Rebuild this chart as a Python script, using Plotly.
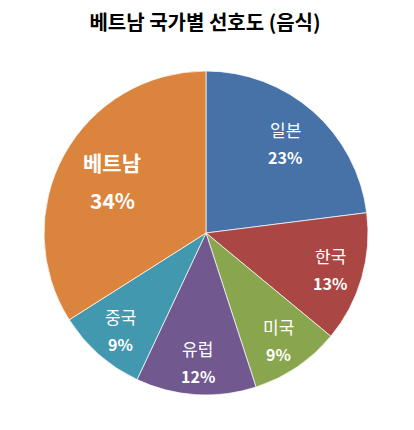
import math
import plotly.graph_objects as go

# slices in clockwise order starting at 12 o'clock
countries = ['일본', '한국', '미국', '유럽', '중국', '베트남']
shares = [23, 13, 9, 12, 9, 34]
colors = ['#4672A8', '#AA4643', '#89A54E', '#71588F', '#4198AF', '#DB843D']

W, H = 414, 430
OFF = 8  # page body margin shifts the plot by 8px
cx, cy, r = 206 - OFF, 233 - OFF, 162
font = 'Noto Sans CJK KR'

fig = go.Figure(go.Pie(
    labels=countries,
    values=shares,
    sort=False,
    direction='clockwise',
    rotation=0,
    marker=dict(colors=colors, line=dict(color='rgba(255,255,255,0.7)', width=1)),
    textinfo='none',
    hoverinfo='label+percent',
    showlegend=False,
    domain=dict(x=[(cx - r) / W, (cx + r) / W], y=[1 - (cy + r) / H, 1 - (cy - r) / H]),
))

# data labels at the middle angle of each slice
total = sum(shares)
acc = 0
for name, v in zip(countries, shares):
    mid = (acc + v / 2) / total * 2 * math.pi
    acc += v
    p = v / total
    big = p > 0.3
    f = 0.66 if big else (0.74 if p > 0.2 else 0.8)
    x = (cx + f * r * math.sin(mid)) / W
    y = 1 - (cy - f * r * math.cos(mid)) / H
    gap = 19 if big else 14
    name_txt = f'<b>{name}</b>' if big else name
    fig.add_annotation(x=x, y=y, xref='paper', yref='paper', text=name_txt,
                       showarrow=False, yshift=gap, xanchor='center', yanchor='middle',
                       font=dict(family=font, size=21 if big else 17, color='white'))
    fig.add_annotation(x=x, y=y, xref='paper', yref='paper', text=f'<b>{p:.0%}</b>',
                       showarrow=False, yshift=-gap, xanchor='center', yanchor='middle',
                       font=dict(family=font, size=21 if big else 16, color='white'))

fig.update_layout(
    width=W, height=H,
    margin=dict(l=0, r=0, t=0, b=0),
    paper_bgcolor='white',
    title=dict(text='<b>베트남 국가별 선호도 (음식)</b>', x=(205 - OFF) / W, y=1 - (23 - OFF) / H,
               xanchor='center', yanchor='middle',
               font=dict(family=font, size=20, color='black')),
)

fig.write_html("out.html")
